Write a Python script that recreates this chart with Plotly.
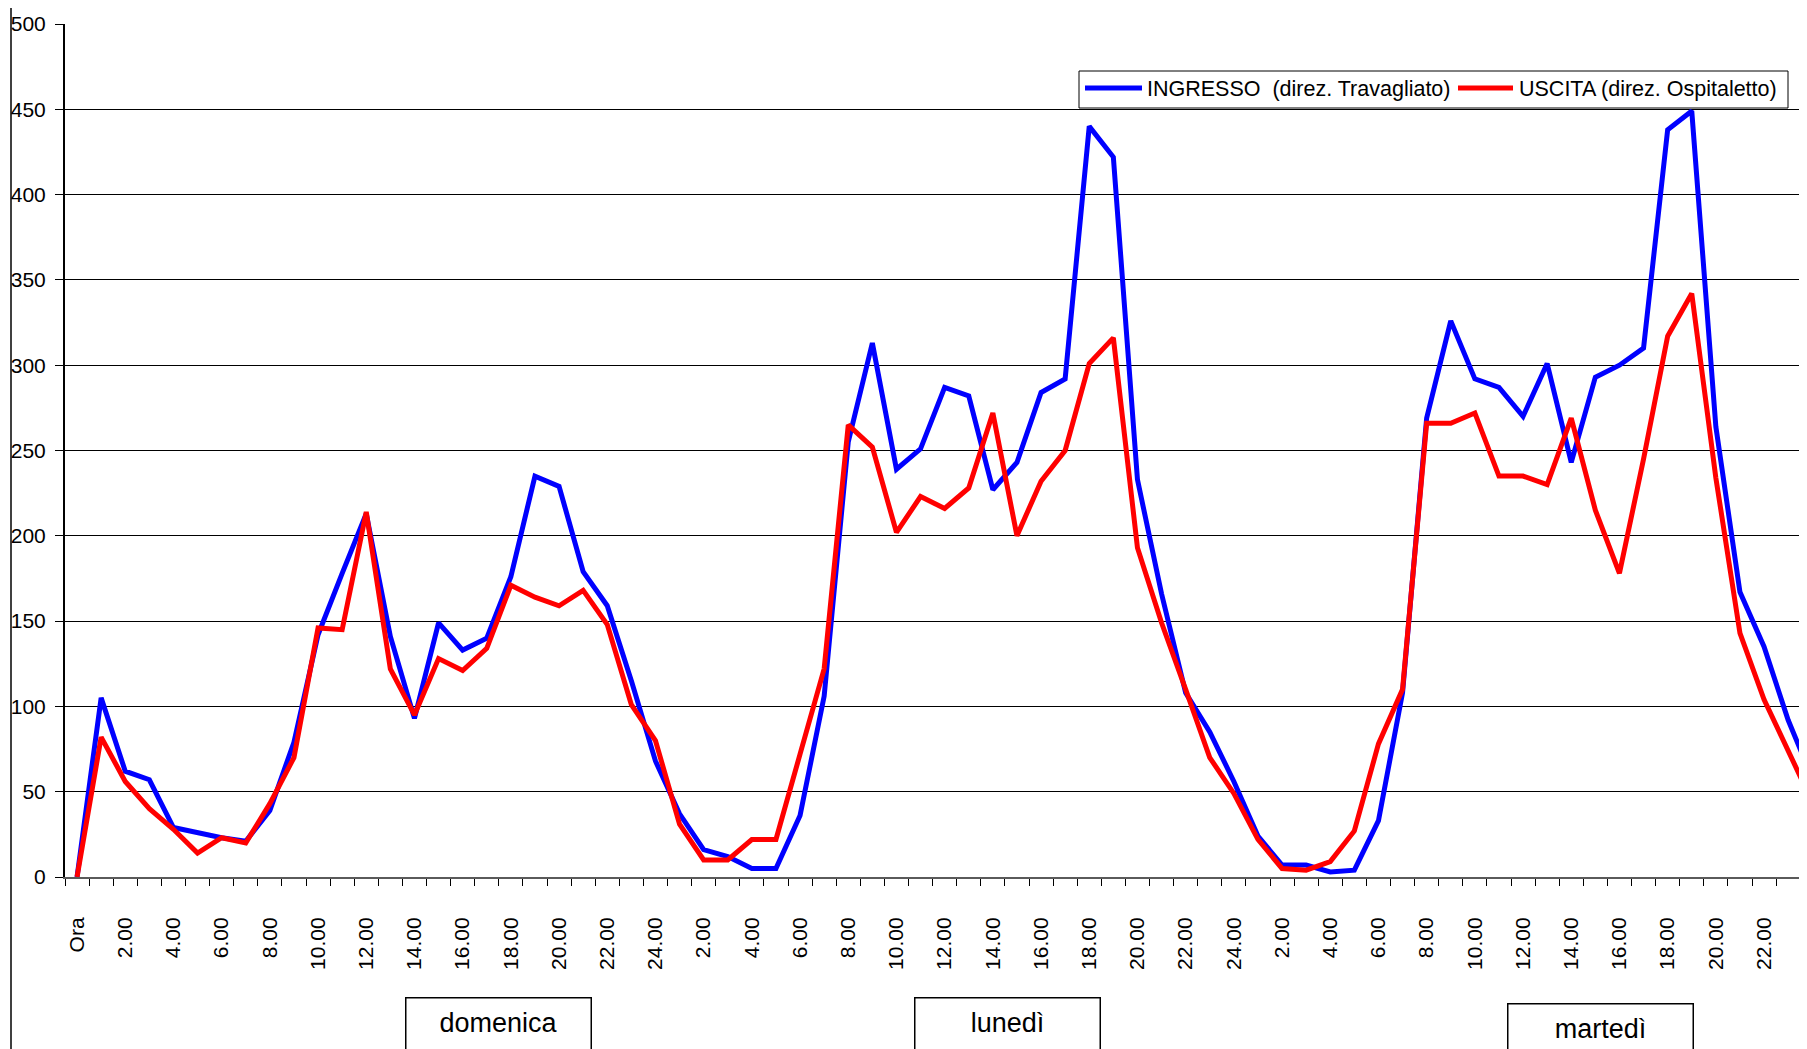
import plotly.graph_objects as go

# hourly counts, three days (domenica, lunedì, martedì)
ore = ["Ora"] + [f"{h}.00" for h in range(1, 25)] * 3

ingresso = [0, 105, 62, 57, 29, 26, 23, 21, 39, 79, 142, 178, 213, 141, 93, 149, 133, 140, 176, 235, 229, 179, 159, 115, 68,
            37, 16, 12, 5, 5, 36, 106, 255, 313, 239, 251, 287, 282, 227, 243, 284, 292, 440, 422, 233, 166, 108, 85, 56,
            24, 7, 7, 3, 4, 33, 108, 269, 326, 292, 287, 270, 301, 243, 293, 300, 310, 438, 449, 264, 167, 135, 92, 58]

uscita = [0, 82, 56, 40, 28, 14, 23, 20, 43, 70, 146, 145, 214, 122, 95, 128, 121, 134, 171, 164, 159, 168, 148, 101, 80,
          31, 10, 10, 22, 22, 72, 122, 265, 252, 202, 223, 216, 228, 272, 200, 232, 250, 301, 316, 193, 149, 110, 70, 49,
          22, 5, 4, 9, 27, 78, 110, 266, 266, 272, 235, 235, 230, 269, 215, 178, 245, 317, 342, 234, 143, 104, 74, 44]

giorni = ["domenica", "lunedì", "martedì"]
serie = ["INGRESSO\u00a0 (direz. Travagliato)", "USCITA (direz. Ospitaletto)"]
colori = ["rgb(0,0,255)", "rgb(255,0,0)"]

FONT = "Liberation Sans, Arial, sans-serif"
OFF = 8                      # default body margin of the html page
W, H = 1807 - OFF, 1049 - OFF
L, T, B = 65 - OFF, 24 - OFF, 172
plot_w = W - L
plot_h = H - T - B
cat_w = 24.1
pos = list(range(len(ore)))


# page pixel -> paper coordinates
def px_x(x):
    return (x - OFF - L) / plot_w


def px_y(y):
    return (H - B - (y - OFF)) / plot_h


fig = go.Figure()
for vals, nome, col in zip([ingresso, uscita], serie, colori):
    fig.add_trace(go.Scatter(x=pos, y=vals, mode="lines", name=nome, showlegend=False,
                             line=dict(color=col, width=5)))

# legend box drawn by hand (Excel-style long samples)
fig.add_shape(type="rect", xref="paper", yref="paper",
              x0=px_x(1079), x1=px_x(1788), y0=px_y(108), y1=px_y(71),
              line=dict(color="black", width=1), fillcolor="white", layer="above")
leg_line = [(1085, 1142), (1458, 1513)]
leg_text = [1145, 1517]
for (a, b), tx, nome, col in zip(leg_line, leg_text, serie, colori):
    fig.add_shape(type="line", xref="paper", yref="paper",
                  x0=px_x(a), x1=px_x(b), y0=px_y(88), y1=px_y(88),
                  line=dict(color=col, width=5), layer="above")
    fig.add_annotation(x=px_x(tx), y=px_y(89), xref="paper", yref="paper",
                       xanchor="left", yanchor="middle", text=nome, showarrow=False,
                       font=dict(family=FONT, size=21.5, color="black"))

# day boxes under the axis
day_x = [17.5, 38.6, 63.2]
day_top = [997, 997, 1003]
for g, dx, dt in zip(giorni, day_x, day_top):
    fig.add_annotation(x=dx, xref="x", y=px_y(dt), yref="paper",
                       yanchor="top", text=g, showarrow=False,
                       font=dict(family=FONT, size=27, color="black"),
                       width=166, height=70, valign="top", borderpad=9,
                       bordercolor="black", borderwidth=1.5, bgcolor="white")

# last hour label, cut by the right edge of the picture
fig.add_annotation(x=(len(ore) - 0.5) * cat_w / plot_w, xref="paper", y=px_y(915), yref="paper",
                   xanchor="center", yanchor="top", text=ore[-1], textangle=-90, showarrow=False,
                   font=dict(family=FONT, size=21, color="black"))

# outer border of the chart area on the left
fig.add_shape(type="line", xref="paper", yref="paper",
              x0=px_x(11), x1=px_x(11), y0=-1, y1=2,
              line=dict(color="black", width=1.5))

fig.update_layout(
    width=W, height=H,
    margin=dict(l=L, r=0, t=T, b=B, pad=0),
    paper_bgcolor="white", plot_bgcolor="white",
    font=dict(family=FONT, size=21, color="black"),
    showlegend=False,
    xaxis=dict(range=[-0.5, -0.5 + plot_w / cat_w], showgrid=False, zeroline=False,
               automargin=False,
               tickmode="array", tickvals=pos[::2], ticktext=ore[::2], tickangle=-90,
               ticks="", ticklabelstandoff=30,
               tickfont=dict(family=FONT, size=21, color="black"),
               showline=True, linecolor="rgb(90,90,90)", linewidth=2,
               minor=dict(tickmode="linear", tick0=-0.5, dtick=1, ticks="outside",
                          ticklen=7, tickcolor="black", tickwidth=1)),
    yaxis=dict(range=[0, 500], dtick=50, showgrid=True, gridcolor="black", gridwidth=1,
               zeroline=False, showline=True, linecolor="black", linewidth=2,
               automargin=False,
               ticks="outside", ticklen=8, tickcolor="black", tickwidth=1,
               ticklabelstandoff=5,
               tickfont=dict(family=FONT, size=21, color="black")),
)

fig.write_html("out.html")
